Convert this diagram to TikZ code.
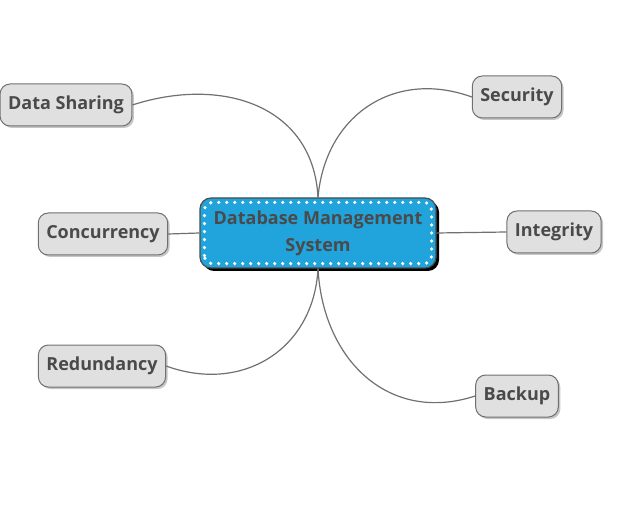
\documentclass[tikz,border=0pt]{standalone}
\usepackage{fontspec}
\setmainfont{Open Sans}
\usetikzlibrary{shadows,calc}
\definecolor{dbblue}{RGB}{33,163,220}
\definecolor{leafgray}{RGB}{224,224,224}
\definecolor{txtgray}{RGB}{74,74,74}
\definecolor{edgegray}{RGB}{112,112,112}
\tikzset{
	leaf/.style={draw=edgegray, line width=1pt, fill=leafgray, rounded corners=10pt, minimum height=42pt, inner xsep=8pt, text=txtgray, font=\fontsize{18}{21}\selectfont\bfseries, drop shadow={shadow xshift=2pt, shadow yshift=-2pt, opacity=.45, fill=gray}},
	hub/.style={draw=black!70, line width=1.2pt, fill=dbblue, rounded corners=11pt, minimum width=236pt, minimum height=70pt, align=center, text=txtgray, font=\fontsize{18}{27}\selectfont\bfseries, drop shadow={shadow xshift=3pt, shadow yshift=-3pt, opacity=1, fill=black}},
	dotline/.style={white, line width=3.6pt, line cap=round, dash pattern=on 0pt off 8pt, rounded corners=8pt},
	branch/.style={edgegray, line width=1.2pt}
}

\begin{document}
\begin{tikzpicture}[x=1pt, y=1pt]
			\useasboundingbox (0,0) rectangle (634,509);
			
			\node[hub] (db) at (318,276) {Database Management\\System};
			\draw[dotline] ($(db.south west)+(5,5)$) rectangle ($(db.north east)+(-5,-5)$);
			
			\node[leaf] (ds) at (66,404) {Data Sharing};
			\node[leaf] (cc) at (103,275) {Concurrency};
			\node[leaf] (rd) at (102,143) {Redundancy};
			
			\node[leaf] (sc) at (517,412) {Security};
			\node[leaf] (ig) at (554,277) {Integrity};
			\node[leaf] (bk) at (517,113) {Backup};
			
			\draw[branch] (db.north) to [out=93, in=18, looseness=1.15] (ds.east);
			\draw[branch] (db.north) to [out=85, in=160, looseness=1.15] (sc.west);
			
			\draw[branch] (cc.east) -- (db.west);
			\draw[branch] (db.east) -- (ig.west);
			
			\draw[branch] (db.south) to [out=-93, in=-20, looseness=1.15] (rd.east);
			\draw[branch] (db.south) to [out=-87, in=-162, looseness=1.15] (bk.west);
			\end{tikzpicture}
\end{document}
